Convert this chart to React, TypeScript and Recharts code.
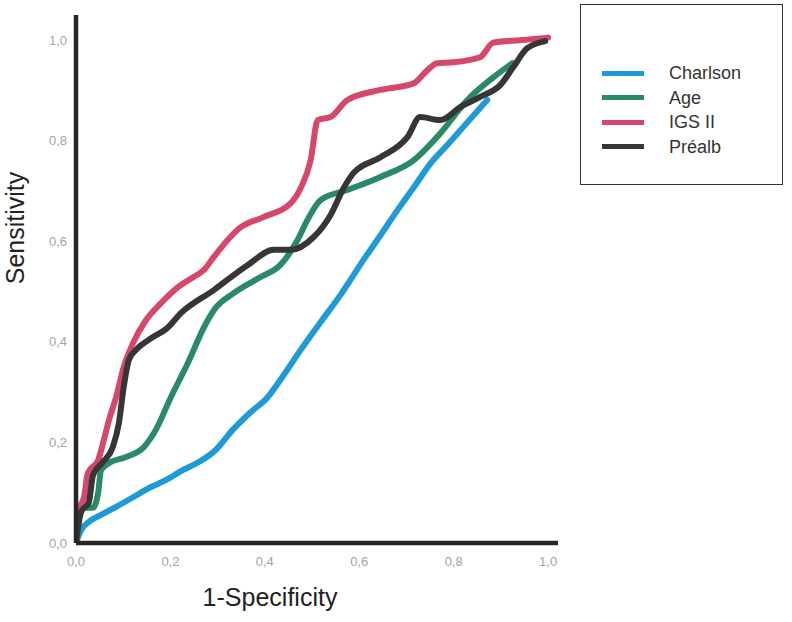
import { LineChart, Line, XAxis, YAxis, Legend, Label } from 'recharts';

// ROC points: false positive rate (1-specificity) and sensitivity
const charlsonFpr = [0, 0.011, 0.027, 0.053, 0.085, 0.121, 0.154, 0.19, 0.226, 0.26, 0.296, 0.332, 0.37, 0.406, 0.44, 0.476, 0.518, 0.56, 0.609, 0.645, 0.681, 0.719, 0.751, 0.786, 0.82, 0.871];
const charlsonTpr = [0, 0.026, 0.042, 0.056, 0.072, 0.091, 0.109, 0.125, 0.145, 0.161, 0.185, 0.225, 0.26, 0.29, 0.334, 0.384, 0.439, 0.493, 0.563, 0.612, 0.662, 0.712, 0.755, 0.791, 0.827, 0.881];

const ageFpr = [0, 0.006, 0.021, 0.036, 0.047, 0.053, 0.07, 0.106, 0.144, 0.169, 0.201, 0.237, 0.271, 0.292, 0.334, 0.391, 0.433, 0.469, 0.49, 0.518, 0.575, 0.645, 0.715, 0.772, 0.829, 0.884, 0.924];
const ageTpr = [0, 0.062, 0.07, 0.07, 0.101, 0.145, 0.159, 0.171, 0.191, 0.225, 0.29, 0.358, 0.429, 0.463, 0.497, 0.529, 0.553, 0.602, 0.642, 0.682, 0.702, 0.728, 0.761, 0.815, 0.881, 0.926, 0.954];

const igsFpr = [0, 0.006, 0.017, 0.025, 0.047, 0.059, 0.07, 0.085, 0.101, 0.121, 0.148, 0.18, 0.216, 0.249, 0.271, 0.292, 0.349, 0.397, 0.455, 0.476, 0.497, 0.512, 0.539, 0.575, 0.645, 0.715, 0.744, 0.765, 0.799, 0.856, 0.884, 0.941, 1.0];
const igsTpr = [0, 0.066, 0.091, 0.139, 0.165, 0.205, 0.245, 0.29, 0.35, 0.398, 0.443, 0.477, 0.509, 0.529, 0.543, 0.569, 0.628, 0.648, 0.676, 0.706, 0.761, 0.841, 0.847, 0.881, 0.901, 0.914, 0.94, 0.954, 0.956, 0.966, 0.995, 1.0, 1.005];

const prealbFpr = [0, 0.011, 0.027, 0.036, 0.057, 0.078, 0.091, 0.101, 0.112, 0.127, 0.154, 0.195, 0.222, 0.292, 0.364, 0.419, 0.455, 0.503, 0.539, 0.567, 0.588, 0.645, 0.702, 0.729, 0.772, 0.814, 0.856, 0.899, 0.926, 0.956, 0.994];
const prealbTpr = [0, 0.062, 0.08, 0.135, 0.161, 0.191, 0.239, 0.31, 0.364, 0.384, 0.404, 0.429, 0.457, 0.503, 0.553, 0.583, 0.583, 0.608, 0.652, 0.706, 0.736, 0.767, 0.807, 0.847, 0.841, 0.867, 0.887, 0.911, 0.946, 0.984, 0.998];

const axisTicks = [0, 0.2, 0.4, 0.6, 0.8, 1.0];

const zip = (xs: number[], ys: number[]) => xs.map((x, i) => ({ x, y: ys[i] }));

const series = [
  { name: 'Charlson', color: '#1e9bd7', data: zip(charlsonFpr, charlsonTpr) },
  { name: 'Age', color: '#2b8a66', data: zip(ageFpr, ageTpr) },
  { name: 'IGS II', color: '#d6486b', data: zip(igsFpr, igsTpr) },
  { name: 'Préalb', color: '#363636', data: zip(prealbFpr, prealbTpr) }
];

const fmt = (v: number) => v.toFixed(1).replace('.', ',');

const tickStyle = { fill: '#a3a3a3', fontSize: 13, fontFamily: 'Liberation Sans, Arial, sans-serif' };
const titleFont = 'Liberation Sans, Arial, sans-serif';

function LegendBox() {
  return (
    <div
      style={{
        width: 203,
        height: 181,
        boxSizing: 'border-box',
        border: '1.5px solid #333',
        background: '#fff',
        paddingTop: 56,
        paddingLeft: 21
      }}
    >
      {series.map((s) => (
        <div key={s.name} style={{ display: 'flex', alignItems: 'center', height: 24.5 }}>
          <div style={{ width: 42, height: 5, background: s.color }} />
          <span
            style={{
              marginLeft: 25,
              fontSize: 18,
              color: '#333',
              fontFamily: titleFont,
              lineHeight: '18px'
            }}
          >
            {s.name}
          </span>
        </div>
      ))}
    </div>
  );
}

export default function App() {
  return (
    <div style={{ position: 'absolute', left: 0, top: 0, width: 792, height: 622, background: '#fff' }}>
      <LineChart width={792} height={622} margin={{ top: 15, right: 234, bottom: 49, left: 36 }}>
        <XAxis
          type="number"
          dataKey="x"
          domain={[0, 1.021]}
          ticks={axisTicks}
          tickFormatter={fmt}
          allowDataOverflow
          height={30}
          stroke="#262626"
          strokeWidth={4.5}
          tickLine={false}
          tickSize={0}
          tickMargin={14}
          tick={tickStyle}
        >
          <Label
            content={() => (
              <text x={270} y={606} textAnchor="middle" fontSize={25} fill="#222" fontFamily={titleFont}>
                1-Specificity
              </text>
            )}
          />
        </XAxis>
        <YAxis
          type="number"
          dataKey="y"
          domain={[0, 1.05]}
          ticks={axisTicks}
          tickFormatter={fmt}
          allowDataOverflow
          width={40}
          stroke="#262626"
          strokeWidth={4.5}
          tickLine={false}
          tickSize={0}
          tickMargin={9}
          tick={tickStyle}
        >
          <Label
            content={() => (
              <text
                x={24}
                y={228}
                transform="rotate(-90 24 228)"
                textAnchor="middle"
                fontSize={25}
                fill="#222"
                fontFamily={titleFont}
              >
                Sensitivity
              </text>
            )}
          />
        </YAxis>
        <Legend
          layout="vertical"
          align="center"
          verticalAlign="middle"
          wrapperStyle={{ position: 'absolute', left: 580, top: 4, width: 203, height: 181 }}
          content={() => <LegendBox />}
        />
        {series.map((s) => (
          <Line
            key={s.name}
            name={s.name}
            data={s.data}
            dataKey="y"
            type="monotone"
            stroke={s.color}
            strokeWidth={6}
            strokeLinecap="round"
            strokeLinejoin="round"
            dot={false}
            activeDot={false}
            isAnimationActive={false}
          />
        ))}
      </LineChart>
    </div>
  );
}
